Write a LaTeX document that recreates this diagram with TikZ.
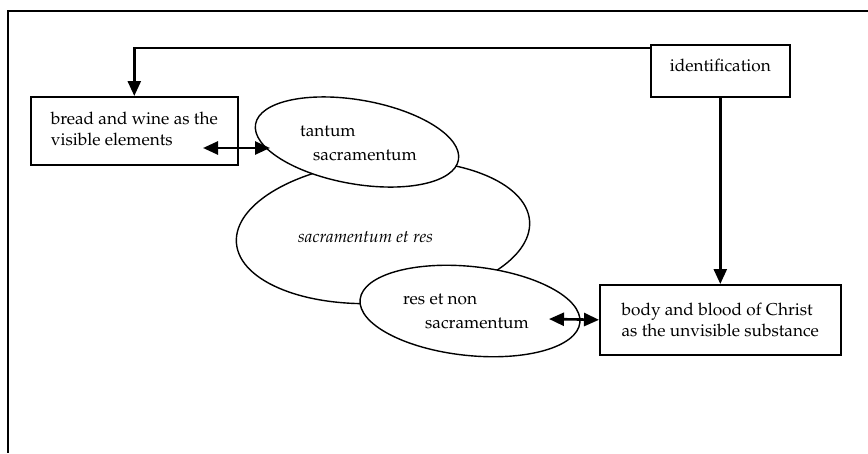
\documentclass[tikz,border=0pt]{standalone}
\usepackage[T1]{fontenc}
\usepackage{mathpazo}
\usepackage{tikz}
\usetikzlibrary{arrows.meta, positioning, shapes.geometric}

\newcommand{\lblfont}{\fontsize{17.2}{21}\selectfont}

\begin{document}
\begin{tikzpicture}[x=1pt, y=-1pt,
  box/.style={draw, line width=1.6pt, rectangle, align=left, font=\lblfont,
              inner sep=0pt, anchor=north west},
  oval/.style={draw, line width=1.4pt, ellipse, inner sep=0pt, fill=white},
  lbl/.style={font=\lblfont, align=left, inner sep=0pt, anchor=west},
  conn/.style={line width=2.6pt, -{Triangle[length=15pt, width=13pt]}},
  dconn/.style={line width=2.6pt,
                {Triangle[length=15pt, width=13pt]}-{Triangle[length=15pt, width=13pt]}}]

  \useasboundingbox (0,0) rectangle (868,453);

  % Frame (top and left only)
  \draw[line width=1.4pt] (868,11) -- (8,11) -- (8,453);

  % Boxes
  \node[box, minimum width=207pt, minimum height=68pt] (bread) at (30,96)
    {bread and wine as the\\visible elements\rule[-4pt]{0pt}{4pt}};
  \node[box, minimum width=139pt, minimum height=52pt] (ident) at (650,44)
    {identification\rule[-12pt]{0pt}{12pt}};
  \node[box, minimum width=241pt, minimum height=70pt] (body) at (599,284)
    {body and blood of Christ\\as the unvisible substance};

  % Ellipses: the middle one first, the other two on top of it
  \node[oval, minimum width=294pt, minimum height=142pt, rotate=4.3] (core) at (383,232) {};
  \node[oval, minimum width=206pt, minimum height=84pt, rotate=-10] (tantum) at (357,142) {};
  \node[oval, minimum width=221pt, minimum height=89pt, rotate=-6] (res) at (470,311) {};

  % Labels in the ellipses
  \node[lbl] (tantumtxt) at (300,143) {tantum\\[3pt]\hspace{13pt}sacramentum};
  \node[lbl, font=\lblfont\itshape] (coretxt) at (298,237) {sacramentum et res};
  \node[lbl] (restxt) at (403,311) {res et non\\[3pt]\hspace{22pt}sacramentum};

  % Connectors
  \coordinate (breadin) at (203,148);
  \coordinate (tantumin) at (270,148);
  \coordinate (resin) at (549,319);

  \draw[conn] ([yshift=-4pt]ident.north west) -| (bread.north);
  \draw[conn] (ident.south) -- (ident.south |- body.north);
  \draw[dconn] (breadin) -- (tantumin);
  \draw[dconn] (resin) -- (body.west);

\end{tikzpicture}
\end{document}
